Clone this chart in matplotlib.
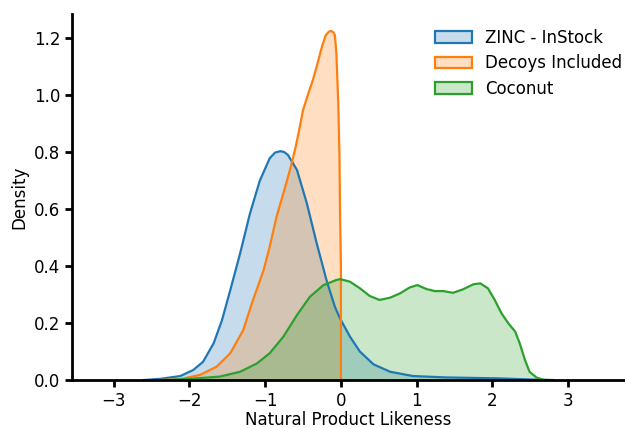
import matplotlib
matplotlib.use("Agg")
import matplotlib.pyplot as plt
from matplotlib.patches import Patch

# density curves (x, density)
zinc_x = [-2.6, -2.39, -2.12, -1.95, -1.82, -1.68, -1.57, -1.46, -1.33, -1.20, -1.07,
          -0.94, -0.87, -0.80, -0.75, -0.70, -0.58, -0.45, -0.32, -0.19, -0.08, -0.01,
          0.12, 0.25, 0.43, 0.65, 0.95, 1.39, 2.05, 2.49, 2.7]
zinc_y = [0.0, 0.004, 0.014, 0.035, 0.064, 0.129, 0.21, 0.316, 0.445, 0.585, 0.70,
          0.778, 0.798, 0.803, 0.80, 0.79, 0.737, 0.62, 0.48, 0.35, 0.257, 0.215,
          0.152, 0.10, 0.055, 0.029, 0.014, 0.009, 0.006, 0.002, 0.0]

decoy_x = [-2.4, -2.12, -1.86, -1.64, -1.46, -1.29, -1.16, -1.02, -0.94, -0.85, -0.76,
           -0.67, -0.60, -0.56, -0.50, -0.43, -0.37, -0.32, -0.25, -0.20, -0.16, -0.13,
           -0.10, -0.08, -0.06, -0.035, -0.02, -0.01, 0.0, 0.0]
decoy_y = [0.0, 0.003, 0.018, 0.047, 0.094, 0.175, 0.281, 0.386, 0.468, 0.573, 0.655,
           0.74, 0.815, 0.866, 0.947, 1.006, 1.053, 1.10, 1.17, 1.21, 1.222, 1.225,
           1.22, 1.21, 1.147, 0.97, 0.80, 0.56, 0.40, 0.0]

coco_x = [-2.3, -1.95, -1.60, -1.33, -1.11, -0.94, -0.76, -0.58, -0.41, -0.23, -0.06,
          -0.01, 0.12, 0.25, 0.38, 0.51, 0.65, 0.78, 0.91, 1.01, 1.13, 1.24, 1.35,
          1.48, 1.61, 1.75, 1.84, 1.94, 2.03, 2.12, 2.21, 2.30, 2.36, 2.43, 2.49,
          2.58, 2.67, 2.8]
coco_y = [0.0, 0.005, 0.012, 0.029, 0.058, 0.094, 0.152, 0.228, 0.292, 0.333, 0.351,
          0.354, 0.345, 0.322, 0.295, 0.281, 0.289, 0.304, 0.325, 0.333, 0.319, 0.312,
          0.312, 0.306, 0.318, 0.336, 0.339, 0.322, 0.281, 0.234, 0.199, 0.17, 0.129,
          0.07, 0.029, 0.009, 0.001, 0.0]

labels = ["ZINC - InStock", "Decoys Included", "Coconut"]
colors = ["#1f77b4", "#ff7f0e", "#2ca02c"]
series = [(zinc_x, zinc_y), (decoy_x, decoy_y), (coco_x, coco_y)]

fig = plt.figure(figsize=(6.25, 4.28), dpi=100)
ax = fig.add_axes([0.1152, 0.1121, 0.8848, 0.855])

for (xs, ys), c in zip(series, colors):
    ax.fill_between(xs, ys, 0, color=c, alpha=0.25, linewidth=0)
    ax.plot(xs, ys, color=c, linewidth=1.6, solid_joinstyle="round")

ax.set_xlim(-3.55, 3.75)
ax.set_ylim(0, 1.284)
ax.set_xticks([-3, -2, -1, 0, 1, 2, 3])
ax.set_yticks([0.0, 0.2, 0.4, 0.6, 0.8, 1.0, 1.2])
ax.set_yticklabels(["0.0", "0.2", "0.4", "0.6", "0.8", "1.0", "1.2"])
ax.set_xlabel("Natural Product Likeness", fontsize=12, labelpad=1)
ax.set_ylabel("Density", fontsize=12)
ax.tick_params(labelsize=12, width=2, length=5)
for s in ("top", "right"):
    ax.spines[s].set_visible(False)
for s in ("left", "bottom"):
    ax.spines[s].set_linewidth(2)

handles = [Patch(facecolor=matplotlib.colors.to_rgba(c, 0.25), edgecolor=c, linewidth=1.6)
           for c in colors]
ax.legend(handles, labels, frameon=False, loc="upper right",
          bbox_to_anchor=(1.007, 0.978), borderaxespad=0, fontsize=12,
          handlelength=2.2, labelspacing=0.45)

fig.savefig("out.png", dpi=100)
